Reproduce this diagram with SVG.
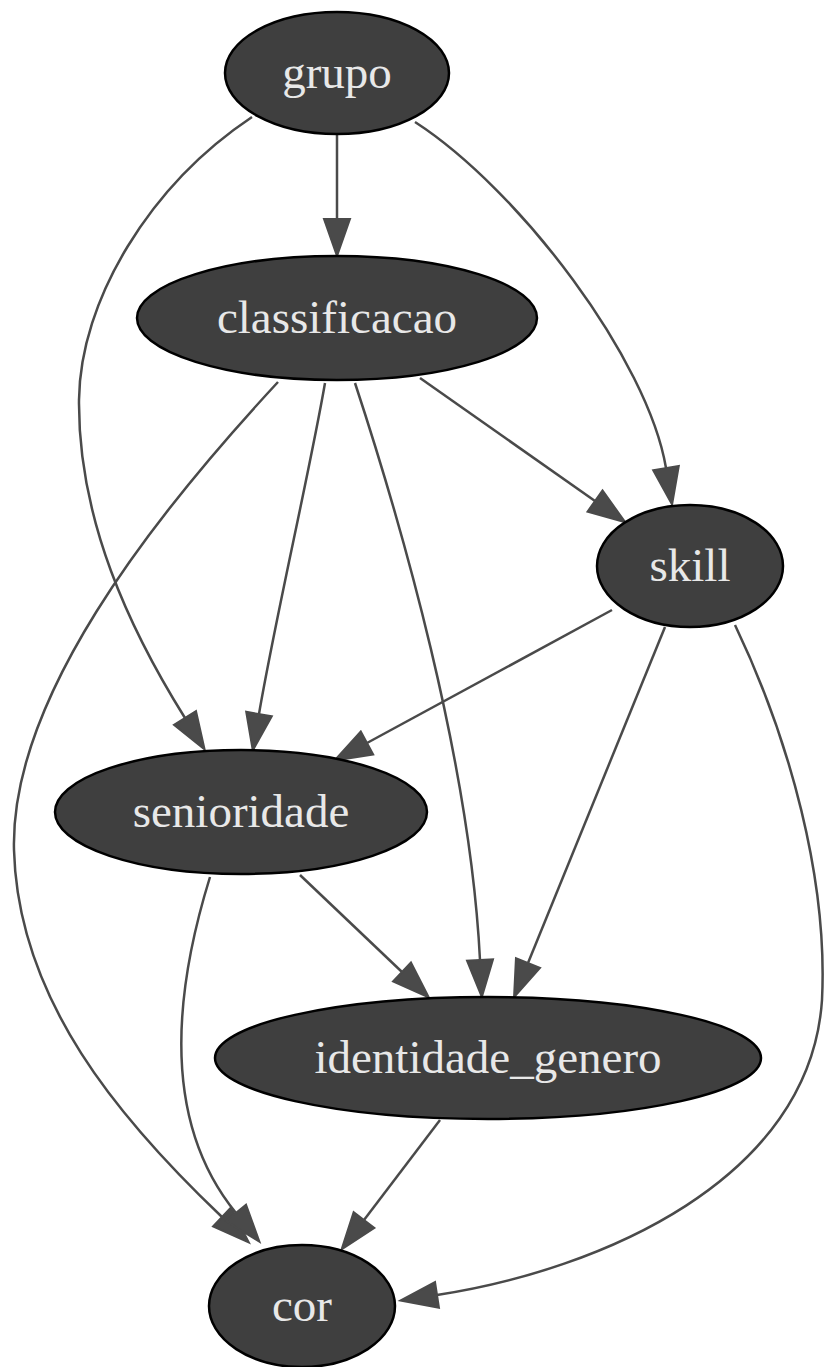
<svg xmlns="http://www.w3.org/2000/svg" width="825" height="1367" viewBox="0 0 825 1367">
  <style>
    .node ellipse { fill: #3f3f3f; stroke: #000000; stroke-width: 2.5; }
    .node text { fill: #e8e8e8; font-family: "Liberation Serif", "Times New Roman", serif; font-size: 47px; text-anchor: middle; }
    .edge { fill: none; stroke: #4a4a4a; stroke-width: 2.5; marker-end: url(#arrow); }
  </style>
  <defs>
    <marker id="arrow" markerUnits="userSpaceOnUse" viewBox="-2 -16 42 32" refX="0" refY="0" markerWidth="42" markerHeight="32" orient="auto">
      <path d="M0,-13 L37,0 L0,13 Z" fill="#4a4a4a" stroke="#4a4a4a" stroke-width="2"/>
    </marker>
  </defs>
  <rect width="825" height="1367" fill="#ffffff"/>

  <g id="edges">
    <path class="edge" d="M337,135 L337,219"/>
    <path class="edge" d="M252,117 C150,185 80,300 79,400 C78,520 130,630 185,718"/>
    <path class="edge" d="M415,122 C520,190 648,360 666,468"/>
    <path class="edge" d="M420,378 L595,501"/>
    <path class="edge" d="M325,383 C310,470 275,620 259,714"/>
    <path class="edge" d="M355,383 C400,520 470,760 480,960"/>
    <path class="edge" d="M278,382 C150,520 10,700 14,850 C18,1000 120,1120 222,1217"/>
    <path class="edge" d="M612,610 L367,743"/>
    <path class="edge" d="M665,627 L528,963"/>
    <path class="edge" d="M735,625 C790,740 828,880 822,1000 C810,1180 600,1270 437,1295"/>
    <path class="edge" d="M300,875 L402,972"/>
    <path class="edge" d="M210,877 C175,990 160,1120 236,1213"/>
    <path class="edge" d="M440,1120 L364,1220"/>
  </g>

  <g id="grupo" class="node">
    <ellipse cx="337" cy="73" rx="112" ry="61"/>
    <text x="337" y="88">grupo</text>
  </g>
  <g id="classificacao" class="node">
    <ellipse cx="337" cy="318" rx="200" ry="62"/>
    <text x="337" y="333">classificacao</text>
  </g>
  <g id="skill" class="node">
    <ellipse cx="690" cy="566" rx="93" ry="61"/>
    <text x="690" y="581">skill</text>
  </g>
  <g id="senioridade" class="node">
    <ellipse cx="241" cy="812" rx="186" ry="62"/>
    <text x="241" y="827">senioridade</text>
  </g>
  <g id="identidade_genero" class="node">
    <ellipse cx="488" cy="1058" rx="273" ry="61"/>
    <text x="488" y="1073">identidade_genero</text>
  </g>
  <g id="cor" class="node">
    <ellipse cx="302" cy="1306" rx="93" ry="61"/>
    <text x="302" y="1321">cor</text>
  </g>
</svg>
